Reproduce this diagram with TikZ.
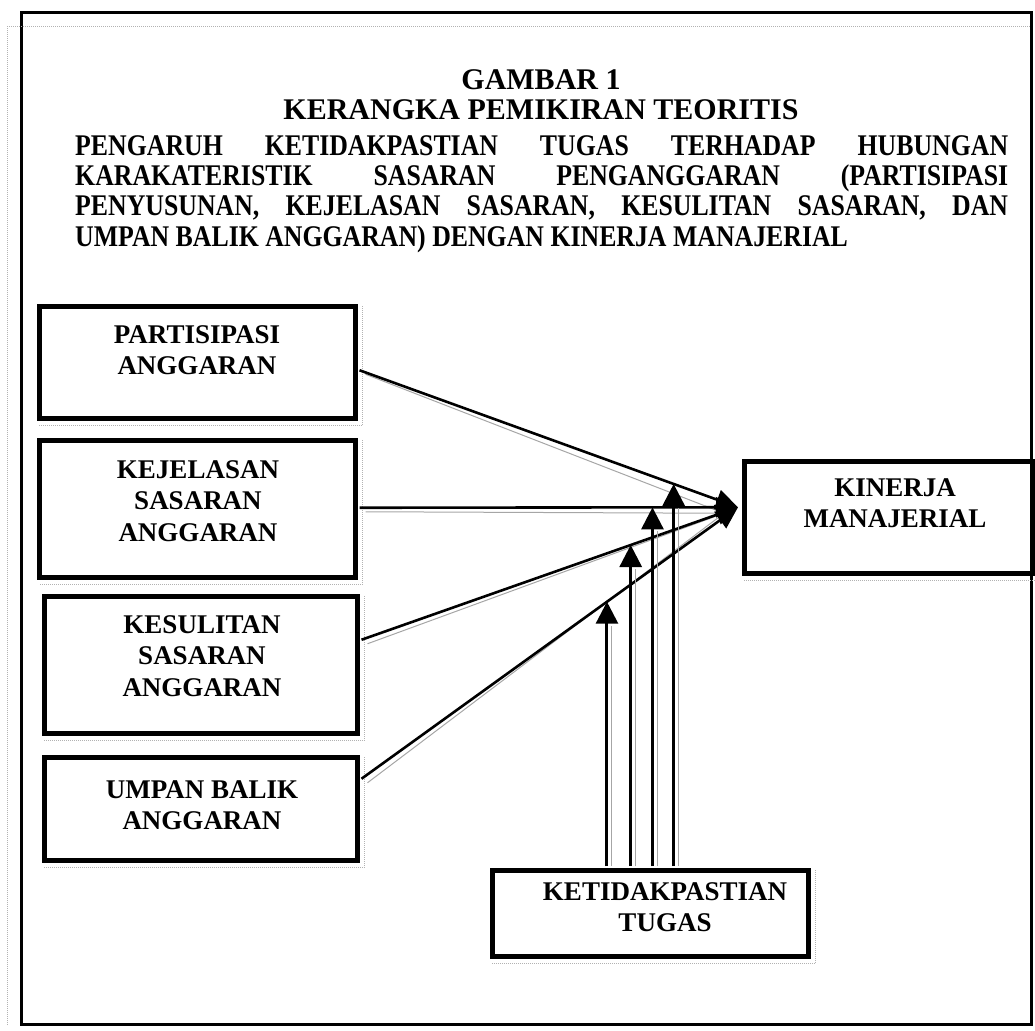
\documentclass[tikz,border=0pt]{standalone}
\usepackage{fontspec}
\setmainfont{Liberation Serif}
\newfontfamily\condfont[FakeStretch=0.86]{Liberation Serif}
\usetikzlibrary{arrows.meta,calc}
\begin{document}
\begin{tikzpicture}[x=1pt,y=-1pt,
  box/.style={draw, line width=4.5pt, anchor=north west, inner sep=0pt},
  lbl/.style={font=\fontsize{27}{31.5}\selectfont\bfseries, align=center, anchor=north, inner sep=0pt},
  ttl/.style={font=\fontsize{30}{30}\selectfont\bfseries, anchor=base, inner sep=0pt},
  par/.style={font=\condfont\fontsize{30}{30}\selectfont\bfseries, anchor=base west, inner sep=0pt},
  conn/.style={line width=2.6pt, -{Triangle[length=22pt,width=20pt]}},
  vline/.style={line width=3pt, -{Triangle[length=22pt,width=22pt]}},
  shade/.style={line width=1pt, gray!70},
  boxshadow/.style={line width=1pt, gray!60, densely dotted},
  frame/.style={line width=3pt},
]
\useasboundingbox (0,0) rectangle (1035,1030);
% outer frame
\draw[frame] (21,13) rectangle (1031,1024);
\draw[gray!60, line width=1pt, densely dotted] (7,1025) -- (7,27) -- (1031,27);

% title
\node[ttl] (t1) at (541,90) {GAMBAR 1};
\node[ttl] (t2) at (541,120) {KERANGKA PEMIKIRAN TEORITIS};
\node[par] (p1) at (75,155) {\makebox[933pt][l]{PENGARUH\hfill KETIDAKPASTIAN\hfill TUGAS\hfill TERHADAP\hfill HUBUNGAN}};
\node[par] (p2) at (75,185) {\makebox[933pt][l]{KARAKATERISTIK\hfill SASARAN\hfill PENGANGGARAN\hfill (PARTISIPASI}};
\node[par] (p3) at (75,215) {\makebox[933pt][l]{PENYUSUNAN,\hfill KEJELASAN\hfill SASARAN,\hfill KESULITAN\hfill SASARAN,\hfill DAN}};
\node[par] (p4) at (75,246) {UMPAN BALIK ANGGARAN) DENGAN KINERJA MANAJERIAL};

% boxes
\node[box, minimum width=316pt, minimum height=112pt] (pa) at (37,304) {};
\node[box, minimum width=316pt, minimum height=137pt] (kj) at (37,438) {};
\node[box, minimum width=313pt, minimum height=137pt] (ks) at (42,594) {};
\node[box, minimum width=313pt, minimum height=103pt] (ub) at (42,755) {};
\node[box, minimum width=288pt, minimum height=112pt] (kn) at (742,459) {};
\node[box, minimum width=316pt, minimum height=86pt] (tg) at (490,868) {};
\foreach \b in {pa,kj,ks,ub,tg}{
  \draw[boxshadow] ($(\b.north east)+(5,2)$) -- ($(\b.south east)+(5,5)$) -- ($(\b.south west)+(2,5)$);
}
\draw[boxshadow] ($(kn.south west)+(2,5)$) -- ($(kn.south east)+(0,5)$);

% labels
\node[lbl] (lpa) at (197,325) {PARTISIPASI\\ANGGARAN};
\node[lbl] (lkj) at (198,460) {KEJELASAN\\SASARAN\\ANGGARAN};
\node[lbl] (lks) at (202,615) {KESULITAN\\SASARAN\\ANGGARAN};
\node[lbl] (lub) at (202,780) {UMPAN BALIK\\ANGGARAN};
\node[lbl] (lkn) at (895,478) {KINERJA\\MANAJERIAL};
\node[lbl] (ltg) at (665,882) {KETIDAKPASTIAN\\TUGAS};

% connectors
\coordinate (hub) at ($(kn.west)+(-4,-10)$);
\coordinate (spa) at ($(pa.east)+(2,8)$);
\coordinate (skj) at ($(kj.east)+(2,-1)$);
\coordinate (sks) at ($(ks.east)+(2,-25)$);
\coordinate (sub) at ($(ub.east)+(2,-30)$);
\foreach \s in {spa,skj,sks,sub}{
  \draw[shade] ($(\s)+(6,4)$) -- ($(hub)+(-14,6)$);
}
\draw[conn] (spa) -- (hub);
\draw[conn] (skj) -- (hub);
\draw[conn] (sks) -- (hub);
\draw[conn] (sub) -- (hub);

% moderating arrows
\coordinate (m1) at ($(sub)!0.652!(hub)$);
\coordinate (m2) at ($(sks)!0.715!(hub)$);
\coordinate (m3) at ($(skj)!0.774!(hub)$);
\coordinate (m4) at ($(spa)!0.830!(hub)$);
\foreach \m in {m1,m2,m3,m4}{
  \draw[shade] ($(\m |- tg.north)+(5,-2)$) -- ($(\m)+(5,24)$);
  \draw[vline] ($(\m |- tg.north)+(0,-2)$) -- (\m);
}
\end{tikzpicture}
\end{document}
